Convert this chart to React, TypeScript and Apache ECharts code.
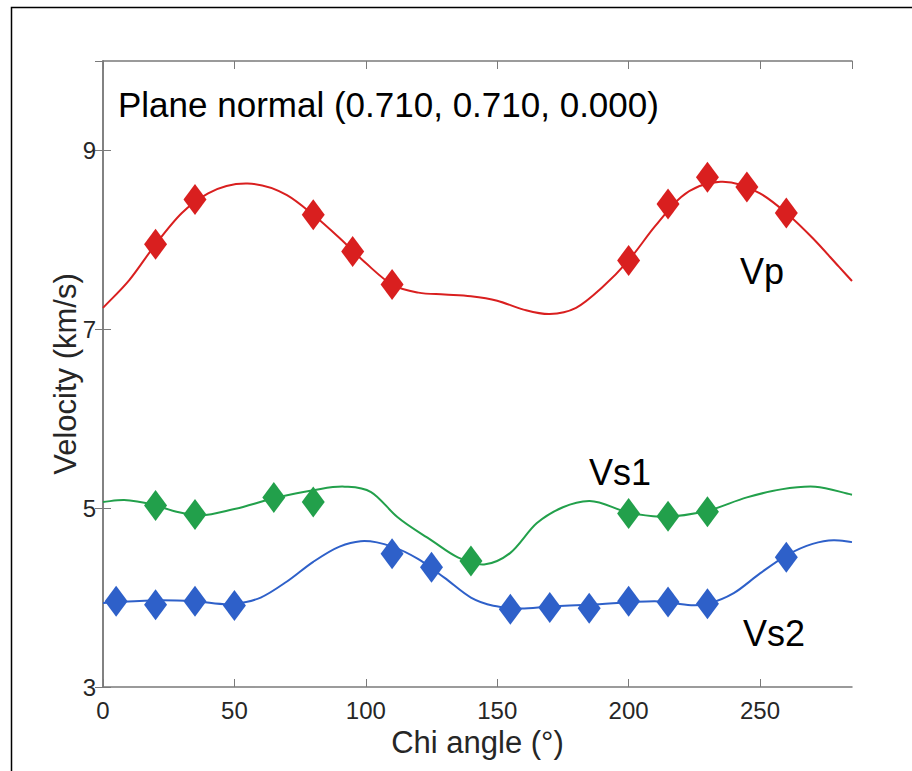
import React, { useEffect, useRef } from "react";
import * as echarts from "echarts";

// Measured markers (Chi angle in degrees, velocity in km/s)
const vpAngles = [20, 35, 80, 95, 110, 200, 215, 230, 245, 260];
const vpValues = [7.95, 8.45, 8.28, 7.87, 7.5, 7.77, 8.4, 8.7, 8.59, 8.3];
const vs1Angles = [20, 35, 65, 80, 140, 200, 215, 230];
const vs1Values = [5.03, 4.93, 5.12, 5.07, 4.41, 4.94, 4.91, 4.96];
const vs2Angles = [5, 20, 35, 50, 110, 125, 155, 170, 185, 200, 215, 230, 260];
const vs2Values = [3.96, 3.92, 3.96, 3.91, 4.49, 4.34, 3.87, 3.89, 3.88, 3.96, 3.95, 3.93, 4.45];

// Fitted curves (turning points included)
const vpCurveAngles = [0, 10, 20, 30, 40, 55, 70, 80, 90, 100, 110, 120, 130, 140, 150, 160, 170, 180, 190, 200, 210, 220, 235, 250, 260, 270, 280, 285];
const vpCurveValues = [7.24, 7.55, 7.95, 8.3, 8.52, 8.63, 8.5, 8.28, 8.02, 7.74, 7.5, 7.41, 7.39, 7.37, 7.32, 7.22, 7.17, 7.24, 7.47, 7.77, 8.15, 8.48, 8.65, 8.52, 8.3, 8.02, 7.7, 7.54];
const vs1CurveAngles = [0, 8, 20, 28, 37, 50, 65, 80, 92, 102, 112, 125, 135, 145, 155, 165, 175, 185, 200, 212, 230, 245, 258, 271, 285];
const vs1CurveValues = [5.07, 5.09, 5.03, 4.96, 4.92, 4.99, 5.11, 5.2, 5.24, 5.18, 4.9, 4.64, 4.45, 4.37, 4.5, 4.83, 5.01, 5.08, 4.95, 4.905, 4.97, 5.12, 5.21, 5.24, 5.15];
const vs2CurveAngles = [0, 22, 35, 50, 60, 70, 80, 90, 98, 110, 120, 130, 140, 157, 170, 185, 210, 230, 240, 250, 260, 270, 278, 285];
const vs2CurveValues = [3.94, 3.97, 3.96, 3.93, 4.0, 4.18, 4.4, 4.57, 4.63, 4.57, 4.43, 4.22, 4.0, 3.88, 3.9, 3.92, 3.96, 3.93, 4.05, 4.27, 4.47, 4.6, 4.64, 4.62];

const xMin = 0;
const xMax = 285;
const xInterval = 50;
const yMin = 3;
const yMax = 10;
const yInterval = 2;

const RED = "#d91f1f";
const GREEN = "#22a04b";
const BLUE = "#2e60c9";
const FONT = "Liberation Sans, Arial, Helvetica, sans-serif";

const zip = (a: number[], b: number[]) => a.map((v, i) => [v, b[i]]);

// Smooth cubic Hermite path through pixel points (tangents from 3-point derivative)
function splinePath(pts: number[][]): string {
  const n = pts.length;
  if (n < 2) return "";
  const slopes: number[] = [];
  for (let i = 0; i < n; i++) {
    if (i === 0) {
      slopes.push((pts[1][1] - pts[0][1]) / (pts[1][0] - pts[0][0]));
    } else if (i === n - 1) {
      slopes.push((pts[n - 1][1] - pts[n - 2][1]) / (pts[n - 1][0] - pts[n - 2][0]));
    } else {
      const h0 = pts[i][0] - pts[i - 1][0];
      const h1 = pts[i + 1][0] - pts[i][0];
      const d0 = (pts[i][1] - pts[i - 1][1]) / h0;
      const d1 = (pts[i + 1][1] - pts[i][1]) / h1;
      slopes.push((h1 * d0 + h0 * d1) / (h0 + h1));
    }
  }
  let d = `M${pts[0][0]},${pts[0][1]}`;
  for (let i = 0; i < n - 1; i++) {
    const h = pts[i + 1][0] - pts[i][0];
    const c1x = pts[i][0] + h / 3;
    const c1y = pts[i][1] + (slopes[i] * h) / 3;
    const c2x = pts[i + 1][0] - h / 3;
    const c2y = pts[i + 1][1] - (slopes[i + 1] * h) / 3;
    d += ` C${c1x},${c1y} ${c2x},${c2y} ${pts[i + 1][0]},${pts[i + 1][1]}`;
  }
  return d;
}

export default function App() {
  const ref = useRef<HTMLDivElement>(null);
  useEffect(() => {
    if (!ref.current) return;
    const chart = echarts.init(ref.current, undefined, { renderer: "svg" });
    const axisCommon = {
      type: "value" as const,
      axisLine: { show: true, lineStyle: { color: "#7a7a7a", width: 1.5 } },
      axisTick: { show: true, inside: true, length: 8, lineStyle: { color: "#7a7a7a", width: 1 } },
      splitLine: { show: false },
    };
    const curve = (name: string, a: number[], v: number[], color: string) => ({
      name,
      type: "custom",
      coordinateSystem: "cartesian2d",
      data: zip(a, v),
      encode: { x: 0, y: 1 },
      z: 2,
      silent: true,
      renderItem: (params: any, api: any) => {
        if (params.dataIndex !== 0) return null;
        const pts = a.map((x, i) => api.coord([x, v[i]]));
        return {
          type: "path",
          shape: { pathData: splinePath(pts) },
          style: { fill: "none", stroke: color, lineWidth: 2 },
        };
      },
    });
    const markers = (name: string, a: number[], v: number[], color: string) => ({
      name,
      type: "scatter",
      data: zip(a, v),
      symbol: "diamond",
      symbolSize: [23, 31],
      itemStyle: { color, opacity: 1 },
      z: 3,
    });
    chart.setOption({
      animation: false,
      backgroundColor: "#ffffff",
      textStyle: { fontFamily: FONT },
      grid: { left: 103, right: 60, top: 61, bottom: 84, containLabel: false, outerBoundsMode: "none" },
      xAxis: [
        {
          ...axisCommon,
          position: "bottom",
          min: xMin,
          max: xMax,
          interval: xInterval,
          name: "Chi angle (°)",
          nameLocation: "middle",
          nameGap: 40,
          nameMoveOverlap: false,
          nameTextStyle: { fontSize: 31, color: "#262626", fontFamily: FONT },
          axisLabel: { show: true, margin: 11, fontSize: 24, color: "#262626", fontFamily: FONT, showMaxLabel: false },
        },
        {
          ...axisCommon,
          position: "top",
          min: xMin,
          max: xMax,
          interval: xInterval,
          axisLabel: { show: false },
        },
      ],
      yAxis: [
        {
          ...axisCommon,
          position: "left",
          min: yMin,
          max: yMax,
          interval: yInterval,
          name: "Velocity (km/s)",
          nameLocation: "middle",
          nameGap: 22,
          nameMoveOverlap: false,
          nameTextStyle: { fontSize: 31, color: "#262626", fontFamily: FONT },
          axisLabel: { show: true, margin: 7, fontSize: 24, color: "#262626", fontFamily: FONT, showMaxLabel: false },
        },
        {
          ...axisCommon,
          position: "right",
          min: yMin,
          max: yMax,
          interval: yInterval,
          axisLabel: { show: false },
        },
      ],
      series: [
        curve("Vp fit", vpCurveAngles, vpCurveValues, RED),
        curve("Vs1 fit", vs1CurveAngles, vs1CurveValues, GREEN),
        curve("Vs2 fit", vs2CurveAngles, vs2CurveValues, BLUE),
        markers("Vp", vpAngles, vpValues, RED),
        markers("Vs1", vs1Angles, vs1Values, GREEN),
        markers("Vs2", vs2Angles, vs2Values, BLUE),
      ],
      graphic: [
        {
          type: "rect",
          left: 9,
          top: 5,
          shape: { width: 960, height: 820 },
          style: { fill: "none", stroke: "#000", lineWidth: 1.5 },
          silent: true,
        },
        {
          type: "text",
          left: 118,
          top: 87,
          style: { text: "Plane normal (0.710, 0.710, 0.000)", fill: "#000", font: `35px ${FONT}` },
        },
        { type: "text", left: 740, top: 253, style: { text: "Vp", fill: "#000", font: `36px ${FONT}` } },
        { type: "text", left: 589, top: 454, style: { text: "Vs1", fill: "#000", font: `36px ${FONT}` } },
        { type: "text", left: 743, top: 615, style: { text: "Vs2", fill: "#000", font: `36px ${FONT}` } },
      ],
    });
    return () => chart.dispose();
  }, []);
  return <div ref={ref} style={{ position: "fixed", left: 0, top: 0, width: 912, height: 771 }} />;
}
